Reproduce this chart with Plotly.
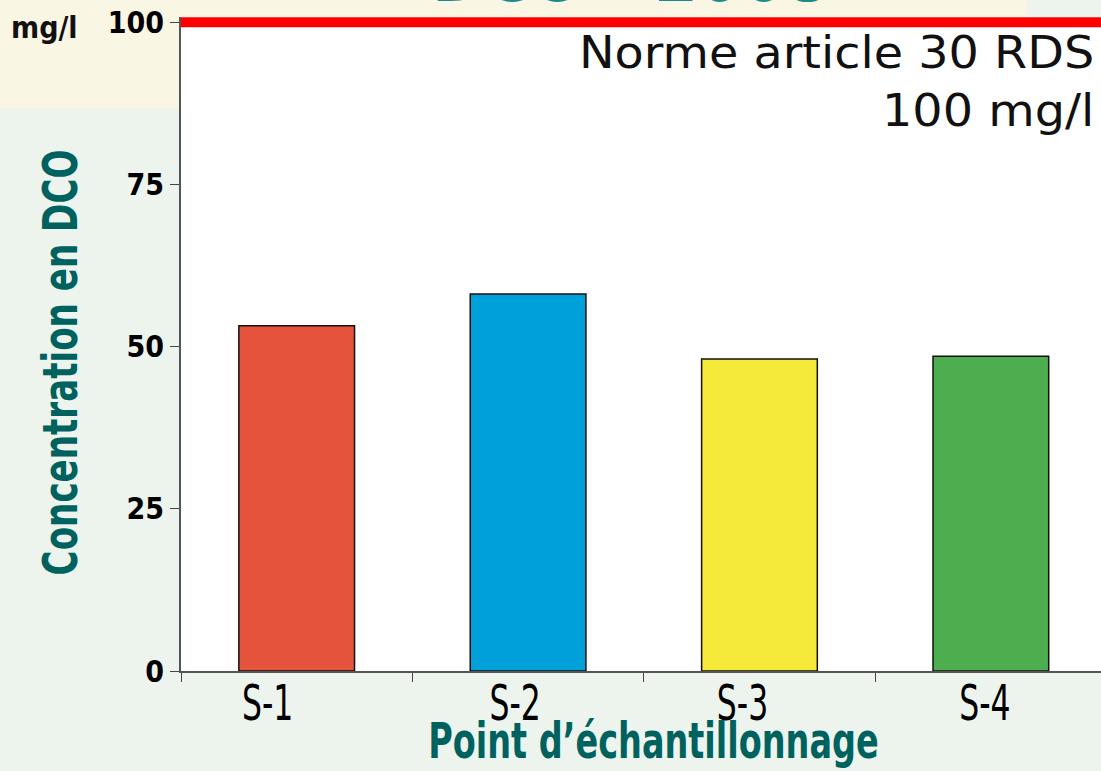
import plotly.graph_objects as go

categories = ["S-1", "S-2", "S-3", "S-4"]
dco_values = [53.2, 58.1, 48.1, 48.5]
bar_colors = ["#e5533d", "#00a0da", "#f5e93a", "#4cae4f"]
norm_value = 100
y_ticks = [0, 25, 50, 75, 100]

TEAL = "#00625f"
COND = "DejaVu Sans Condensed, DejaVu Sans, sans-serif"
PAPER = "#edf4ee"

fig = go.Figure()
fig.add_trace(go.Bar(
    x=categories, y=dco_values, width=0.5,
    marker=dict(color=bar_colors, line=dict(color="#111111", width=1.5)),
    showlegend=False,
))

# background tint (paper areas only)
fig.add_shape(type="rect", xref="paper", yref="paper", x0=-0.2, x1=0, y0=0.86, y1=1.03,
              fillcolor="#f9f6e4", line_width=0, layer="below")
fig.add_shape(type="rect", xref="paper", yref="paper", x0=0, x1=0.92, y0=1.0, y1=1.03,
              fillcolor="#f9f6e4", line_width=0, layer="below")

# norm line
fig.add_shape(type="line", xref="paper", yref="y", x0=0, x1=1, y0=norm_value, y1=norm_value,
              line=dict(color="#ff0000", width=10))

fig.add_annotation(text="Norme article 30 RDS<br>100 mg/l", xref="paper", yref="paper",
                   x=1, y=1, xanchor="right", yanchor="top", xshift=-5, yshift=-7,
                   align="right", showarrow=False,
                   font=dict(family="DejaVu Sans, sans-serif", size=45, color="#111111"))

fig.add_annotation(text="mg/l", xref="paper", yref="y", x=0, y=norm_value,
                   xanchor="right", yanchor="middle", xshift=-101, yshift=-5, showarrow=False,
                   font=dict(family=COND, size=30, color="#111111", weight="bold"))

fig.add_annotation(text="DCO - 2008", xref="paper", yref="paper", x=0.5, y=1.0, yanchor="bottom",
                   xshift=-11, yshift=-3, showarrow=False,
                   font=dict(family=COND, size=70, color="#1a8a8e", weight="bold"))

fig.add_annotation(text="Point d\u2019échantillonnage", xref="paper", yref="paper",
                   x=0.5, y=0, xanchor="center", yanchor="top", xshift=12, yshift=-40,
                   showarrow=False,
                   font=dict(family=COND, size=49, color=TEAL, weight="bold"))

fig.add_annotation(text="Concentration en DCO", xref="paper", yref="paper",
                   x=0, y=0.5, xanchor="center", yanchor="middle", xshift=-121, yshift=-19,
                   textangle=-90, showarrow=False,
                   font=dict(family=COND, size=48, color=TEAL, weight="bold"))

fig.update_layout(
    width=1101, height=771,
    margin=dict(l=181, r=0, t=17, b=100, pad=0),
    paper_bgcolor=PAPER,
    plot_bgcolor="#ffffff",
    xaxis=dict(
        type="category", range=[-0.5, 3.476], tickson="boundaries",
        ticks="outside", ticklen=9, tickwidth=1, tickcolor="#444444",
        showline=True, linecolor="#555555", linewidth=2, showgrid=False,
        ticklabelstandoff=-13,
        tickfont=dict(family=COND, size=50, color="#000000"),
    ),
    yaxis=dict(
        range=[0, 100.8], tickvals=y_ticks, ticks="outside", ticklen=9, tickwidth=1,
        tickcolor="#444444", showline=True, linecolor="#555555", linewidth=2,
        showgrid=False, zeroline=False, ticklabelstandoff=0,
        tickfont=dict(family=COND, size=30, color="#000000", weight="bold"),
    ),
)

post = """
document.documentElement.style.margin='0';
document.body.style.margin='0';
document.body.style.background='%s';
var gd = document.getElementById('{plot_id}');
function scaleX(el, sx, anchor, dx){
  var b = el.getBBox();
  var cx = b.x + b.width*anchor, cy = b.y + b.height/2;
  var prev = el.getAttribute('transform') || '';
  el.setAttribute('transform', prev + ' translate(' + (cx + (dx||0)) + ',' + cy + ') scale(' + sx + ',1) translate(' + (-cx) + ',' + (-cy) + ')');
}
var tickShift = {'S-1': -29, 'S-2': -13, 'S-3': -17, 'S-4': -6};
gd.querySelectorAll('g.xtick text').forEach(function(t){
  scaleX(t, 0.7, 0.5, tickShift[t.textContent] || 0);
});
gd.querySelectorAll('text.annotation-text').forEach(function(t){
  var s = t.textContent;
  if (s.indexOf('chantillonnage') >= 0) scaleX(t, 0.76, 0.5, 0);
  else if (s.indexOf('Concentration') >= 0) scaleX(t, 0.79, 0.5, 0);
  else if (s.indexOf('Norme') >= 0) scaleX(t, 1.06, 1.0, 0);
});
""" % PAPER

fig.write_html("out.html", post_script=post, config={"displayModeBar": False})
